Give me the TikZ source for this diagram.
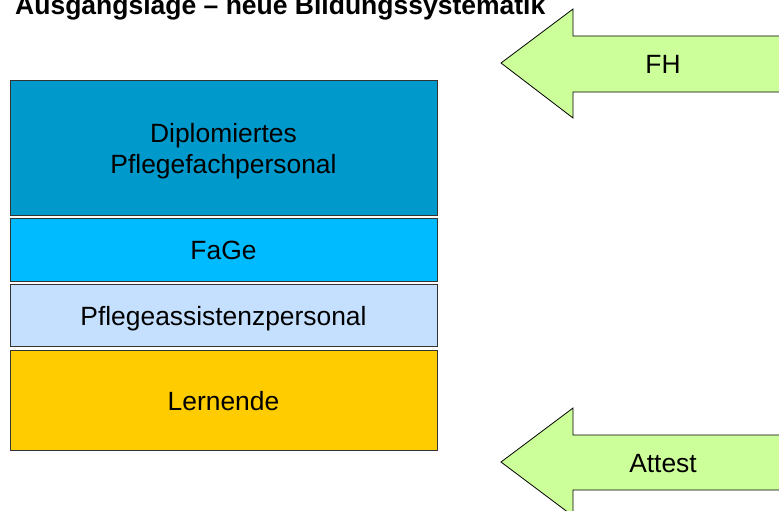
\documentclass[tikz,border=0pt]{standalone}
\usepackage{fontspec}
\setmainfont{Liberation Sans}
\definecolor{diplblau}{RGB}{0,153,204}
\definecolor{fageblau}{RGB}{0,187,255}
\definecolor{assiblau}{RGB}{197,224,255}
\definecolor{lerngelb}{RGB}{255,204,0}
\definecolor{pfeilgruen}{RGB}{204,255,153}
\tikzset{
  stufe/.style={draw=black!80, line width=0.8pt, minimum width=427pt, inner sep=0pt,
    align=center, text height=19pt, text depth=0pt, font=\fontsize{26.4}{31}\selectfont},
  pfeil/.style={draw=black, line width=0.8pt, fill=pfeilgruen},
  pfeiltext/.style={text height=19pt, text depth=0pt, inner sep=0pt, font=\fontsize{26.4}{31}\selectfont}
}

\begin{document}
\begin{tikzpicture}[x=1pt, y=-1pt]
        \useasboundingbox (0,0) rectangle (779,511);
        \clip (0,0) rectangle (779,511);

        % Titel
        \node[anchor=base west, inner sep=0pt, font=\fontsize{26.5}{32}\selectfont\bfseries]
            (titel) at (15,14.5) {Ausgangslage – neue Bildungssystematik};

        % Bildungsstufen
        \node[stufe, fill=diplblau, minimum height=135pt, text height=50pt] (dipl) at (223.5,148)
            {Diplomiertes\\Pflegefachpersonal};
        \node[stufe, fill=fageblau, minimum height=63pt] (fage) at (223.5,249.7) {FaGe};
        \node[stufe, fill=assiblau, minimum height=62pt] (assi) at (223.5,315.5) {Pflegeassistenzpersonal};
        \node[stufe, fill=lerngelb, minimum height=100pt] (lern) at (223.5,400.5) {Lernende};

        % Pfeile
        \draw[pfeil] (501,63) -- (573,9) -- (573,36) -- (800,36) -- (800,92) -- (573,92) -- (573,118) -- cycle; % FH
        \draw[pfeil] (501,462) -- (573,408) -- (573,435) -- (800,435) -- (800,490) -- (573,490) -- (573,516) -- cycle; % Attest
        \node[pfeiltext] (fh) at (663,64.5) {FH};
        \node[pfeiltext] (attest) at (663,463) {Attest};
    \end{tikzpicture}
\end{document}
